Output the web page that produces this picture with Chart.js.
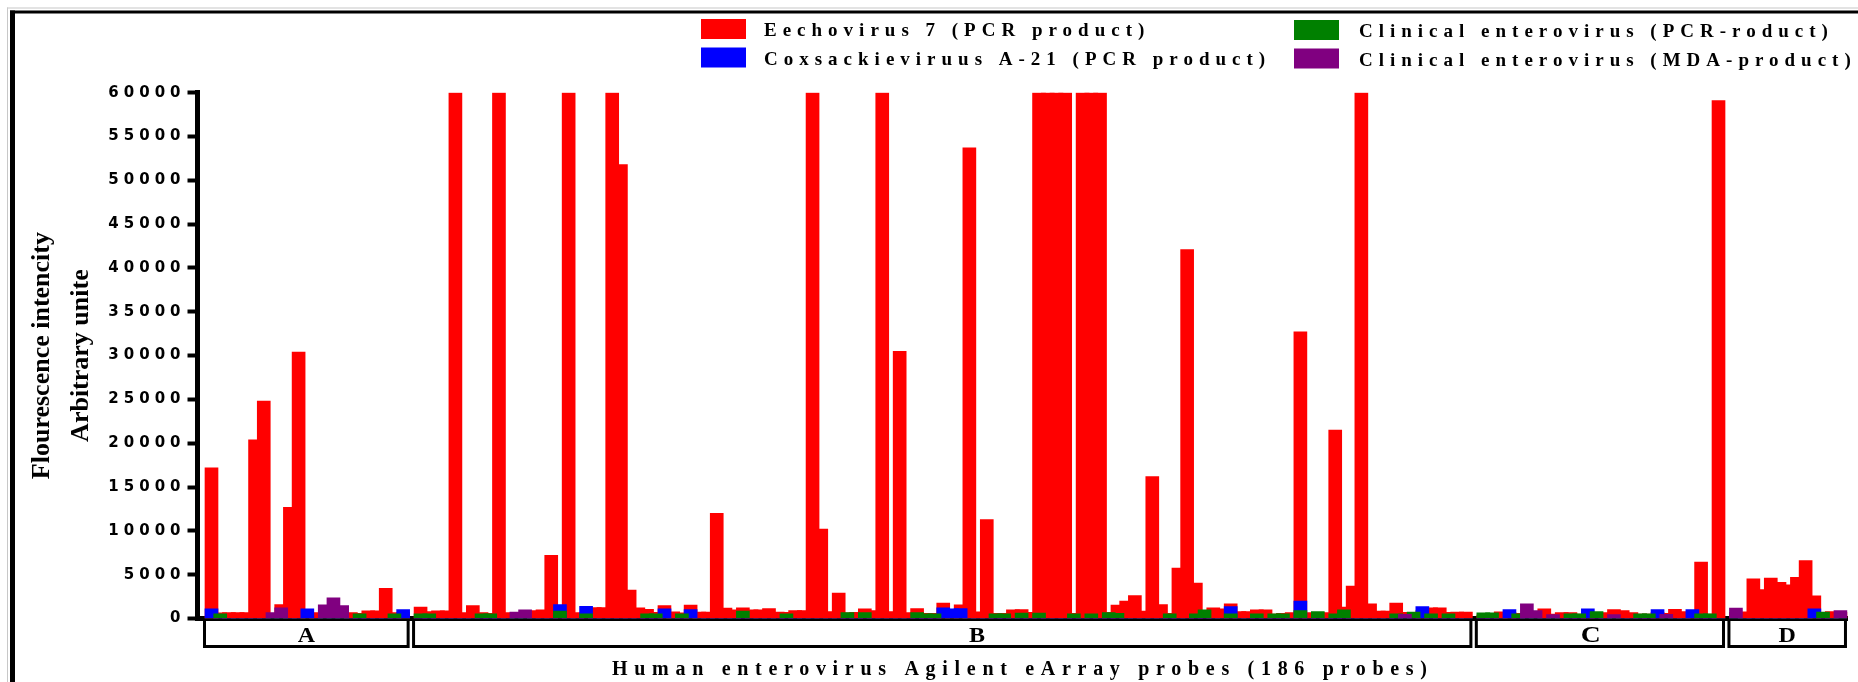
<!DOCTYPE html>
<html>
<head>
<meta charset="utf-8">
<script src="https://cdn.jsdelivr.net/npm/chart.js@4.4.1/dist/chart.umd.min.js"></script>
<style>
  html, body { margin: 0; padding: 0; background: #ffffff; }
  #wrap { position: relative; width: 1858px; height: 682px; overflow: hidden; }
  canvas { display: block; }
</style>
</head>
<body>
<div id="wrap"><canvas id="chart" width="1858" height="682"></canvas></div>
<script>
// Probe groups on the eArray (one empty slot is left between neighbouring groups)
const groupNames = ['A', 'B', 'C', 'D'];
const groupSizes = [23, 121, 28, 13];

// Y axis ticks
const yTicks = [0, 5000, 10000, 15000, 20000, 25000, 30000, 35000, 40000, 45000, 50000, 55000, 60000];

// Series labels and colours
const seriesNames = [
  'Eechovirus 7 (PCR product)',
  'Coxsackieviruus A-21 (PCR product)',
  'Clinical enterovirus (PCR-roduct)',
  'Clinical enterovirus (MDA-product)'
];
const seriesColors = ['#ff0000', '#0000ff', '#008000', '#800080'];

// Fluorescence per probe, group A | B | C | D
const echovirus7 = [
  17200, 650, 680, 680, 680, 20400, 24800, 600, 1600, 12700, 30400, 700, 680, 500, 500, 500, 680, 600, 870, 870, 3450, 680, 700,
  1290, 800, 870, 870, 60000, 680, 1480, 680, 600, 60000,
  680, 600, 700, 910, 990, 7200, 700, 60000, 680, 700,
  1250, 1250, 60000, 51800, 3250, 1220, 1060, 700, 1480, 760,
  650, 1520, 720, 720, 12000, 1180, 990, 1220, 990, 990,
  1140, 720, 700, 910, 910, 60000, 10200, 800, 2900, 650,
  700, 1100, 910, 60000, 800, 30500, 680, 1140, 600, 600,
  1750, 1000, 1560, 53700, 760, 11300, 600, 600, 990, 1030,
  700, 60000, 60000, 60000, 60000, 600, 60000, 60000, 60000, 700,
  1520, 1980, 2620, 840, 16200, 1600, 600, 5750, 42100, 4030,
  700, 1220, 1100, 1670, 800, 800, 990, 990, 500, 600,
  680, 32700, 680, 680, 680, 21500, 1290, 3700, 60000, 1670,
  840, 840, 1750, 700, 600, 900, 1220, 1220, 700, 720,
  720,
  400, 400, 760, 700, 600, 500, 600, 1100, 500, 680,
  680, 500, 700, 600, 680, 1030, 910, 680, 500, 500,
  700, 600, 1060, 800, 700, 6450, 500, 59100,
  700, 760, 4520, 3300, 4600, 4140, 3840, 4710, 6600, 2580, 700, 800, 700
];

const coxsackieA21 = [
  1100, 0, 0, 0, 0, 0, 0, 0, 0, 0, 0, 1100, 0, 0, 0, 0, 0, 0, 0, 0, 0, 0, 1030,
  0, 0, 0, 0, 0, 0, 0, 0, 0, 0,
  0, 0, 0, 0, 0, 0, 1600, 0, 0, 1400,
  0, 0, 0, 0, 0, 0, 0, 0, 1100, 0,
  0, 1030, 0, 0, 0, 0, 0, 0, 0, 0,
  0, 0, 0, 0, 0, 0, 0, 0, 0, 0,
  0, 0, 0, 0, 0, 0, 0, 0, 0, 0,
  1220, 1100, 1140, 0, 0, 0, 0, 0, 0, 0,
  0, 0, 0, 0, 0, 0, 0, 0, 0, 0,
  0, 0, 0, 0, 0, 0, 0, 0, 0, 0,
  0, 0, 0, 1370, 0, 0, 0, 0, 0, 0,
  0, 1980, 0, 0, 0, 0, 0, 0, 0, 0,
  0, 0, 0, 0, 0, 1370, 0, 0, 0, 0,
  0,
  0, 0, 0, 1030, 0, 0, 0, 0, 0, 0,
  0, 0, 1100, 0, 0, 0, 0, 0, 0, 0,
  1030, 0, 0, 0, 1030, 0, 0, 0,
  0, 0, 0, 0, 0, 0, 0, 0, 0, 1100, 0, 0, 0
];

const clinicalPCR = [
  0, 530, 0, 0, 0, 0, 0, 0, 0, 0, 0, 0, 0, 0, 0, 0, 0, 530, 0, 0, 0, 530, 0,
  530, 530, 0, 0, 0, 0, 0, 530, 530, 0,
  0, 0, 0, 0, 0, 0, 840, 0, 0, 530,
  0, 0, 0, 0, 0, 0, 530, 530, 0, 0,
  530, 0, 0, 0, 0, 0, 0, 840, 0, 0,
  0, 0, 530, 0, 0, 0, 0, 0, 0, 680,
  0, 680, 0, 0, 0, 0, 0, 680, 530, 530,
  0, 0, 0, 0, 0, 0, 530, 530, 0, 610,
  0, 610, 0, 0, 0, 530, 0, 530, 0, 680,
  600, 0, 0, 0, 0, 0, 530, 0, 0, 530,
  990, 0, 0, 530, 0, 0, 530, 0, 530, 530,
  0, 910, 0, 800, 0, 530, 990, 0, 0, 0,
  0, 0, 530, 0, 720, 0, 530, 0, 530, 0,
  0,
  650, 650, 0, 0, 530, 0, 0, 0, 0, 0,
  530, 530, 0, 800, 0, 0, 0, 0, 530, 530,
  0, 0, 0, 0, 0, 530, 530, 0,
  0, 0, 0, 0, 0, 0, 0, 0, 0, 0, 720, 0, 0
];

const clinicalMDA = [
  0, 0, 0, 0, 0, 0, 0, 680, 1220, 0, 0, 0, 0, 1560, 2360, 1480, 0, 0, 0, 0, 0, 0, 0,
  0, 0, 0, 0, 0, 0, 0, 0, 0, 0,
  0, 720, 990, 0, 0, 0, 0, 0, 0, 0,
  0, 0, 0, 0, 0, 0, 0, 0, 0, 0,
  0, 0, 0, 0, 0, 0, 0, 0, 0, 0,
  0, 0, 0, 0, 0, 0, 0, 0, 0, 0,
  0, 0, 0, 0, 0, 0, 0, 0, 0, 0,
  0, 0, 0, 0, 0, 0, 0, 0, 0, 0,
  0, 0, 0, 0, 0, 0, 0, 0, 0, 0,
  0, 0, 0, 0, 0, 0, 0, 0, 0, 0,
  0, 0, 0, 0, 0, 0, 0, 0, 0, 0,
  0, 0, 0, 0, 0, 0, 0, 0, 0, 0,
  0, 0, 0, 490, 0, 0, 0, 0, 0, 0,
  0,
  0, 0, 0, 0, 0, 1670, 910, 0, 460, 0,
  0, 0, 0, 0, 0, 460, 0, 0, 0, 0,
  0, 490, 0, 0, 0, 0, 0, 0,
  1180, 0, 0, 0, 0, 0, 0, 0, 0, 0, 0, 0, 910
];

// Slot index of every probe along the x axis, plus the slot span of each group
const probeSlots = [];
const groupSpans = [];
(function () {
  let s = 0;
  groupSizes.forEach(n => {
    groupSpans.push([s, s + n - 1]);
    for (let i = 0; i < n; i++) probeSlots.push(s++);
    s++;
  });
})();
const lastSlot = probeSlots[probeSlots.length - 1];

const seriesValues = [echovirus7, coxsackieA21, clinicalPCR, clinicalMDA];

const datasets = seriesValues.map((vals, si) => ({
  label: seriesNames[si],
  data: vals.map((v, i) => ({ x: probeSlots[i], y: v })),
  backgroundColor: seriesColors[si],
  borderWidth: 0,
  grouped: false,
  barThickness: 13,
  order: seriesValues.length - si   // red underneath, purple on top
}));

const SERIF = '"Liberation Serif", "Times New Roman", serif';

// Legend, axis titles, group brackets and outer frame
const decorations = {
  id: 'decorations',
  beforeDraw(chart) {
    chart.ctx.letterSpacing = '5px';
  },
  afterDraw(chart) {
    const ctx = chart.ctx;
    const xs = chart.scales.x;
    ctx.save();
    ctx.letterSpacing = '0px';

    // frame
    ctx.fillStyle = '#c8c8c8';
    ctx.fillRect(7, 7.5, 1851, 1);
    ctx.fillRect(7, 7.5, 1, 675);
    ctx.fillStyle = '#000';
    ctx.fillRect(10, 10.5, 1848, 3);
    ctx.fillRect(10, 10.5, 5, 672);

    // y axis title (two lines)
    ctx.font = 'bold 26px ' + SERIF;
    ctx.textAlign = 'center';
    ctx.textBaseline = 'alphabetic';
    const ymid = (chart.chartArea.top + chart.chartArea.bottom) / 2;
    [['Flourescence intencity', 49], ['Arbitrary unite', 88]].forEach(([t, bx]) => {
      ctx.save();
      ctx.translate(bx, ymid);
      ctx.rotate(-Math.PI / 2);
      ctx.fillText(t, 0, 0);
      ctx.restore();
    });

    // group brackets under the axis
    const labelFrac = [0.5, 0.533, 0.463, 0.5];
    const labelSize = [20, 20, 23, 20];
    ctx.strokeStyle = '#000';
    ctx.lineWidth = 3;
    ctx.lineJoin = 'miter';
    groupSpans.forEach(([a, b], g) => {
      const left = xs.getPixelForValue(a) - 7;
      const right = xs.getPixelForValue(b) + 5;
      ctx.beginPath();
      ctx.moveTo(left, 621);
      ctx.lineTo(left, 646.5);
      ctx.lineTo(right, 646.5);
      ctx.lineTo(right, 621);
      ctx.stroke();
      ctx.font = 'bold ' + labelSize[g] + 'px ' + SERIF;
      ctx.textAlign = 'center';
      const cx = left + (right - left) * labelFrac[g];
      ctx.save();
      ctx.translate(cx, 642);
      ctx.scale(1.2, 1);
      ctx.fillText(groupNames[g], 0, 0);
      ctx.restore();
    });

    // x axis title
    ctx.font = 'bold 20px ' + SERIF;
    ctx.textAlign = 'left';
    ctx.letterSpacing = '6.7px';
    ctx.fillText('Human enterovirus Agilent eArray probes (186 probes)', 612, 675);

    // legend, two columns
    const legendPos = [
      { bx: 701, by: 19, tx: 764, ty: 36 },
      { bx: 701, by: 47.5, tx: 764, ty: 64.5 },
      { bx: 1294, by: 20, tx: 1359, ty: 37 },
      { bx: 1294, by: 48.5, tx: 1359, ty: 65.5 }
    ];
    ctx.font = 'bold 19px ' + SERIF;
    ctx.letterSpacing = '6px';
    legendPos.forEach((p, i) => {
      ctx.fillStyle = seriesColors[i];
      ctx.fillRect(p.bx, p.by, 45, 20);
      ctx.fillStyle = '#000';
      ctx.fillText(seriesNames[i], p.tx, p.ty);
    });

    ctx.restore();
    ctx.letterSpacing = '0px';
  }
};

new Chart(document.getElementById('chart'), {
  type: 'bar',
  data: { datasets },
  options: {
    responsive: false,
    animation: false,
    devicePixelRatio: 1,
    layout: { padding: { top: 92.7, left: 0, right: 10.3, bottom: 63.5 } },
    plugins: { legend: { display: false }, tooltip: { enabled: false } },
    scales: {
      x: {
        type: 'linear',
        offset: false,
        bounds: 'data',
        min: -1.607,
        max: lastSlot + 0.83,
        z: 1,
        grid: { display: false, offset: false },
        ticks: { display: false },
        border: { display: true, color: '#000', width: 5 },
        afterFit(scale) { scale.height = 0; }
      },
      y: {
        min: 0,
        max: 60000,
        z: 1,
        afterBuildTicks(scale) { scale.ticks = yTicks.map(v => ({ value: v })); },
        ticks: {
          color: '#000',
          padding: 2,
          font: { family: '"DejaVu Sans", sans-serif', size: 15, weight: 'bold' },
          callback: v => String(v)
        },
        grid: {
          display: true,
          drawOnChartArea: false,
          drawTicks: true,
          tickLength: 10,
          tickWidth: 4,
          tickColor: '#000',
          color: '#000'
        },
        border: { display: true, color: '#000', width: 5 },
        afterFit(scale) { scale.width = 197.5; }
      }
    }
  },
  plugins: [decorations]
});
</script>
</body>
</html>
